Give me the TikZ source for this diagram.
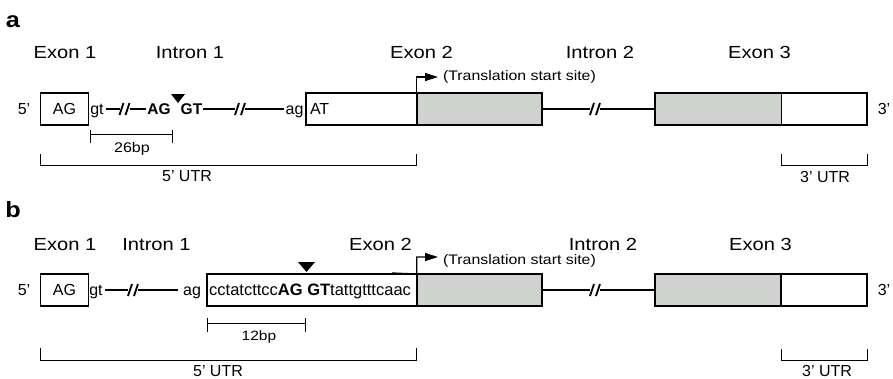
\documentclass[tikz,border=0pt]{standalone}
\usepackage{fontspec}
\setmainfont{Liberation Sans}
\newfontfamily\widesf{Liberation Sans}[FakeStretch=1.15]
\usetikzlibrary{arrows.meta}
\definecolor{cdsgray}{RGB}{208,210,208}

% two slanted strokes marking a break in an intron
\newcommand\breakmarks[1]{%
  \draw[slashmark] ([xshift=-5pt,yshift=-6pt]#1.center) -- ([xshift=-1pt,yshift=6pt]#1.center);
  \draw[slashmark] ([xshift=1pt,yshift=-6pt]#1.center) -- ([xshift=5pt,yshift=6pt]#1.center);}

\begin{document}
\begin{tikzpicture}[x=1pt,y=-1pt,
  every node/.style={inner sep=0pt, outer sep=0pt},
  panel/.style={font=\widesf\bfseries\fontsize{22}{24}\selectfont, anchor=base},
  region/.style={font=\widesf\fontsize{17.5}{20}\selectfont, anchor=base},
  seq/.style={font=\fontsize{16}{19}\selectfont, text height=11.5pt, text depth=0pt},
  seqbold/.style={seq, font=\bfseries\fontsize{15.5}{19}\selectfont},
  brk/.style={minimum width=10pt, minimum height=12pt},
  slashmark/.style={line width=1.8pt},
  box/.style={draw, anchor=north west, minimum height=32pt, line width=1.2pt,
              font=\fontsize{16}{19}\selectfont},
  exonbox/.style={box, line width=1.8pt, fill=white},
  cdsbox/.style={box, line width=1.8pt, fill=cdsgray},
  intron/.style={line width=1.3pt},
  ruler/.style={line width=1pt},
  note/.style={font=\widesf\fontsize{14}{16}\selectfont, anchor=base},
  utr/.style={font=\fontsize{16}{18}\selectfont, anchor=base},
  tssnote/.style={font=\widesf\fontsize{13.8}{16}\selectfont, anchor=base west},
  tss/.style={line width=1.3pt, -{Triangle[length=13pt,width=8pt]}},
]
\useasboundingbox[fill=white] (0,0) rectangle (893,378);

% ---------------- panel a ----------------
\node[panel] (pa) at (13,27) {a};
\node[region] (ex1la) at (65,58) {Exon 1};
\node[region] (in1la) at (190,58) {Intron 1};
\node[region] (ex2la) at (421.5,58) {Exon 2};
\node[region] (in2la) at (600,58) {Intron 2};
\node[region] (ex3la) at (759.5,58) {Exon 3};

\node[seq] (p5a) at (24,109) {5’};
\node[box, minimum width=47.6pt] (ex1a) at (40.7,93) {AG};
\node[seq] (gta) at (97,109) {gt};
\node[brk] (brkA1) at (124.5,109) {};
\node[seqbold] (agA) at (159,109) {AG};
\node[seqbold] (gtA) at (191.5,109) {GT};
\node[brk] (brkA2) at (240,109) {};
\node[seq] (ag2a) at (294.5,109) {ag};
\node[exonbox, minimum width=110.7pt] (ex2a) at (306,93) {};
\node[seq, anchor=west] (ata) at ([xshift=4pt]ex2a.west) {AT};
\node[cdsbox, minimum width=125.3pt] (cds2a) at (416.7,93) {};
\node[brk] (brkA3) at (595,109) {};
\node[cdsbox, minimum width=126.5pt] (cds3a) at (655,93) {};
\node[exonbox, minimum width=85.5pt] (utr3a) at (781.5,93) {};
\node[seq] (p3a) at (884,109) {3’};

\draw[intron] ([xshift=2pt]gta.east) -- (brkA1.west);
\draw[intron] (brkA1.east) -- ([xshift=-1.5pt]agA.west);
\draw[intron] ([xshift=1pt]gtA.east) -- (brkA2.west);
\draw[intron] (brkA2.east) -- ([xshift=-2pt]ag2a.west);
\draw[intron] (cds2a.east) -- (brkA3.west);
\draw[intron] (brkA3.east) -- (cds3a.west);
\breakmarks{brkA1}
\breakmarks{brkA2}
\breakmarks{brkA3}

% cut site
\coordinate (cutA) at (178,103);
\fill (cutA) -- ++(-7,-9) -- ++(14,0) -- cycle;

% translation start site
\coordinate (tssA) at (438,77);
\draw[tss] (cds2a.north west) |- (tssA);
\node[tssnote] (tsslA) at (443,80.5) {(Translation start site)};

% 26 bp ruler
\coordinate (r26l) at (90.7,134);
\coordinate (r26r) at (172.7,134);
\draw[ruler] (r26l) -- (r26r);
\draw[ruler] ([yshift=4pt]r26l) -- ([yshift=-9pt]r26l);
\draw[ruler] ([yshift=4pt]r26r) -- ([yshift=-9pt]r26r);
\node[note] (l26) at (132,152.5) {26bp};

% UTR brackets
\draw[ruler] (ex1a.west |- 0,154) -- (ex1a.west |- 0,165) -- (cds2a.west |- 0,165) -- (cds2a.west |- 0,154);
\node[utr] (u5a) at (187,181.5) {5’ UTR};
\draw[ruler] (utr3a.west |- 0,154) -- (utr3a.west |- 0,165.5) -- (utr3a.east |- 0,165.5) -- (utr3a.east |- 0,154);
\node[utr] (u3a) at (825,182) {3’ UTR};

% ---------------- panel b ----------------
\node[panel] (pb) at (13,217) {b};
\node[region] (ex1lb) at (65,250) {Exon 1};
\node[region] (in1lb) at (156.5,250) {Intron 1};
\node[region] (ex2lb) at (380.5,250) {Exon 2};
\node[region] (in2lb) at (603,250) {Intron 2};
\node[region] (ex3lb) at (760.5,250) {Exon 3};

\node[seq] (p5b) at (24,290) {5’};
\node[box, minimum width=47.6pt] (ex1b) at (40.7,274) {AG};
\node[seq] (gtb) at (96,290) {gt};
\node[brk] (brkB1) at (133,290) {};
\node[seq] (agb) at (192,290) {ag};
\node[exonbox, minimum width=210pt] (ex2b) at (206.7,274) {};
\node[seq, anchor=west, font=\fontsize{16.5}{19}\selectfont] (seqb)
  at ([xshift=2.5pt]ex2b.west) {cctatcttcc\textbf{AG GT}tattgtttcaac};
\node[cdsbox, minimum width=125.3pt] (cds2b) at (416.7,274) {};
\node[brk] (brkB3) at (595,290) {};
\node[cdsbox, minimum width=126pt] (cds3b) at (655,274) {};
\node[exonbox, minimum width=86pt] (utr3b) at (781,274) {};
\node[seq] (p3b) at (884,290) {3’};

\draw[intron] ([xshift=2pt]gtb.east) -- (brkB1.west);
\draw[intron] (brkB1.east) -- ([xshift=-5pt]agb.west);
\draw[intron] (cds2b.east) -- (brkB3.west);
\draw[intron] (brkB3.east) -- (cds3b.west);
\breakmarks{brkB1}
\breakmarks{brkB3}

% cut site
\coordinate (cutB) at (306.5,272);
\fill (cutB) -- ++(-8.5,-10) -- ++(17,0) -- cycle;

% translation start site
\coordinate (tss0B) at (392,273);
\coordinate (tssB) at (438,257);
\draw[tss] (tss0B) -- (cds2b.north west) |- (tssB);
\node[tssnote] (tsslB) at (443,264) {(Translation start site)};

% 12 bp ruler
\coordinate (r12l) at (207.3,323);
\coordinate (r12r) at (305,323);
\draw[ruler] (r12l) -- (r12r);
\draw[ruler] ([yshift=5pt]r12l) -- ([yshift=-9pt]r12l);
\draw[ruler] ([yshift=5pt]r12r) -- ([yshift=-9pt]r12r);
\node[note, font=\widesf\fontsize{13.5}{16}\selectfont] (l12) at (259,340.5) {12bp};

% UTR brackets
\draw[ruler] (ex1b.west |- 0,348) -- (ex1b.west |- 0,360) -- (cds2b.west |- 0,360) -- (cds2b.west |- 0,348);
\node[utr] (u5b) at (218,376) {5’ UTR};
\draw[ruler] (utr3b.west |- 0,349) -- (utr3b.west |- 0,360) -- (utr3b.east |- 0,360) -- (utr3b.east |- 0,349);
\node[utr] (u3b) at (827,376) {3’ UTR};
\end{tikzpicture}
\end{document}
